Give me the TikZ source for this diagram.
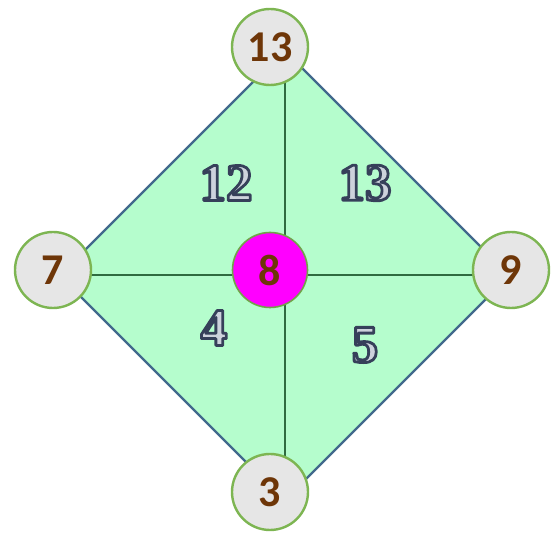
\documentclass[tikz,border=0pt]{standalone}
\usepackage{fontspec}
\setmainfont{Carlito}
\newfontfamily\labfont{Liberation Serif}
\definecolor{dfill}{HTML}{B5FDCD}
\definecolor{dborder}{HTML}{41698C}
\definecolor{dline}{HTML}{2F6B40}
\definecolor{cfill}{HTML}{E6E6E6}
\definecolor{cborder}{HTML}{7DB552}
\definecolor{hubfill}{HTML}{FF00FF}
\definecolor{numbrown}{HTML}{6E3608}
\definecolor{lablight}{HTML}{CDD2DC}
\tikzset{
  vert/.style={circle, draw=cborder, line width=2.4pt, fill=cfill, minimum size=76pt, inner sep=0pt,
    font=\fontsize{44}{44}\selectfont\bfseries, text=numbrown},
  hub/.style={circle, draw=cborder!90!black, line width=1.6pt, fill=hubfill, minimum size=75pt, inner sep=0pt,
    font=\fontsize{44}{44}\selectfont\bfseries, text=numbrown},
  region/.style={inner sep=0pt, font=\labfont\fontsize{53}{53}\selectfont\bfseries},
  diam/.style={draw=dborder, line width=2.4pt, fill=dfill, line join=miter},
  divider/.style={draw=dline, line width=2pt}
}
\newcommand{\reglab}[1]{\textcolor{lablight}{\special{pdf:literal direct 2 Tr 2.8 w 1 j 0.212 0.251 0.353 RG}#1\special{pdf:literal direct 0 Tr}}}
\begin{document}
\begin{tikzpicture}[x=1pt,y=-1pt]
\useasboundingbox (0,0) rectangle (558,534);
\coordinate (T) at (284.5,50.5);
\coordinate (R) at (509.5,275.5);
\coordinate (B) at (284.5,500.5);
\coordinate (L) at (59.5,275.5);
\path[diam] (T) -- (R) -- (B) -- (L) -- cycle;
\draw[divider] (T) -- (B);
\draw[divider] (L) -- (R);
\node[region] (r12) at (226,183) {\reglab{12}};
\node[region] (r13) at (365,183) {\reglab{13}};
\node[region] (r4) at (214,328) {\reglab{4}};
\node[region] (r5) at (365,345) {\reglab{5}};
\node[vert] (n13) at (270,47) {13};
\node[vert] (n7) at (53,270) {7};
\node[vert] (n9) at (511,270) {9};
\node[vert] (n3) at (270,492) {3};
\node[hub] (n8) at (270,270) {8};
\end{tikzpicture}
\end{document}
